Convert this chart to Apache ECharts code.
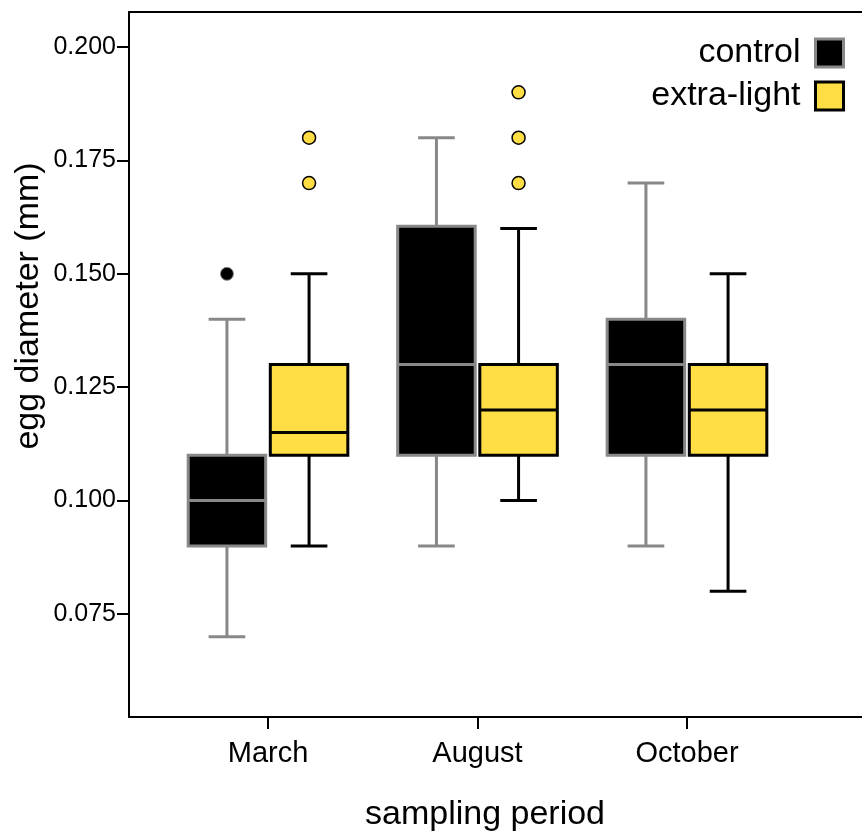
<!DOCTYPE html>
<html>
<head>
<meta charset="utf-8">
<script src="https://cdn.jsdelivr.net/npm/echarts@6/dist/echarts.min.js"></script>
<style>
  html, body { margin: 0; padding: 0; background: #fff; }
  #chart { width: 862px; height: 834px; }
</style>
</head>
<body>
<div id="chart"></div>
<script>
// sampling periods
const categories = ['March', 'August', 'October'];
// [min, q1, median, q3, max] per period
const controlStats = [
    [0.070, 0.090, 0.100, 0.110, 0.140],
    [0.090, 0.110, 0.130, 0.1605, 0.180],
    [0.090, 0.110, 0.130, 0.140, 0.170]
];
const lightStats = [
    [0.090, 0.110, 0.115, 0.130, 0.150],
    [0.100, 0.110, 0.120, 0.130, 0.160],
    [0.080, 0.110, 0.120, 0.130, 0.150]
];
// outliers: [period index, value]
const controlOutliers = [[0, 0.150]];
const lightOutliers = [[0, 0.170], [0, 0.180], [1, 0.170], [1, 0.180], [1, 0.190]];
const yTicks = [0.075, 0.100, 0.125, 0.150, 0.175, 0.200];

const FONT = '"Liberation Sans", Arial, sans-serif';
const YELLOW = '#FEDD45';
const GREY = '#888888';
const OFFSET = 0.196;   // half spacing between the two boxes of a period
const BOX_W = 0.37;
const CAP_W = 0.175;
const X_MIN = -0.6635;
const X_MAX = 2.8353;

function boxRenderer(offset, stroke, fill) {
    return function (params, api) {
        const x = api.value(0) + offset;
        const lo = api.coord([x, api.value(1)]);
        const q1 = api.coord([x, api.value(2)]);
        const med = api.coord([x, api.value(3)]);
        const q3 = api.coord([x, api.value(4)]);
        const hi = api.coord([x, api.value(5)]);
        const bw = api.size([BOX_W, 0])[0];
        const cw = api.size([CAP_W, 0])[0];
        const line = {stroke: stroke, lineWidth: 3};
        return {
            type: 'group',
            children: [
                {type: 'line', shape: {x1: lo[0], y1: lo[1], x2: hi[0], y2: hi[1]}, style: line},
                {type: 'line', shape: {x1: lo[0] - cw / 2, y1: lo[1], x2: lo[0] + cw / 2, y2: lo[1]}, style: line},
                {type: 'line', shape: {x1: hi[0] - cw / 2, y1: hi[1], x2: hi[0] + cw / 2, y2: hi[1]}, style: line},
                {
                    type: 'rect',
                    shape: {x: q3[0] - bw / 2, y: q3[1], width: bw, height: q1[1] - q3[1]},
                    style: {fill: fill, stroke: stroke, lineWidth: 3}
                },
                {type: 'line', shape: {x1: med[0] - bw / 2, y1: med[1], x2: med[0] + bw / 2, y2: med[1]}, style: line}
            ]
        };
    };
}

const chart = echarts.init(document.getElementById('chart'), null, {renderer: 'canvas'});

chart.setOption({
    animation: false,
    backgroundColor: '#fff',
    textStyle: {fontFamily: FONT, color: '#000'},
    grid: {left: 129, top: 12, bottom: 117, right: 0},
    legend: {
        orient: 'vertical',
        right: 12,
        top: 31,
        align: 'right',
        icon: 'rect',
        itemWidth: 28,
        itemHeight: 28,
        itemGap: 9,
        textStyle: {fontSize: 34, lineHeight: 34, color: '#000', fontFamily: FONT, padding: [0, 10, 0, 0]},
        data: [
            {name: 'control', itemStyle: {color: '#000', borderColor: GREY, borderWidth: 3}},
            {name: 'extra-light', itemStyle: {color: YELLOW, borderColor: '#000', borderWidth: 3}}
        ]
    },
    xAxis: [
        {
            type: 'value',
            min: X_MIN,
            max: X_MAX,
            splitLine: {show: false},
            axisLine: {onZero: false, lineStyle: {color: '#000', width: 2}},
            axisTick: {customValues: [0, 1, 2], length: 12, lineStyle: {color: '#000', width: 2}},
            axisLabel: {
                customValues: [0, 1, 2],
                margin: 22,
                fontSize: 29,
                color: '#000',
                fontFamily: FONT,
                formatter: function (v) { return categories[Math.round(v)]; }
            }
        },
        {
            // top frame line
            type: 'value',
            position: 'top',
            min: X_MIN,
            max: X_MAX,
            splitLine: {show: false},
            axisLine: {onZero: false, lineStyle: {color: '#000', width: 2}},
            axisTick: {show: false},
            axisLabel: {show: false}
        }
    ],
    yAxis: {
        type: 'value',
        min: 0.05229,
        max: 0.20772,
        splitLine: {show: false},
        axisLine: {show: true, onZero: false, lineStyle: {color: '#000', width: 2}},
        axisTick: {show: true, customValues: yTicks, length: 12, lineStyle: {color: '#000', width: 2}},
        axisLabel: {
            customValues: yTicks,
            margin: 13,
            fontSize: 25,
            color: '#000',
            fontFamily: FONT,
            formatter: function (v) { return v.toFixed(3); }
        }
    },
    graphic: [
        {
            type: 'text', x: 29, y: 306, rotation: Math.PI / 2,
            style: {text: 'egg diameter (mm)', font: '34px ' + FONT, fill: '#000', align: 'center', verticalAlign: 'middle'}
        },
        {
            type: 'text', x: 485, y: 815,
            style: {text: 'sampling period', font: '34px ' + FONT, fill: '#000', align: 'center', verticalAlign: 'middle'}
        }
    ],
    series: [
        {
            name: 'control',
            type: 'custom',
            itemStyle: {color: '#000', borderColor: GREY},
            renderItem: boxRenderer(-OFFSET, GREY, '#000'),
            data: controlStats.map((s, i) => [i].concat(s))
        },
        {
            name: 'extra-light',
            type: 'custom',
            itemStyle: {color: YELLOW, borderColor: '#000'},
            renderItem: boxRenderer(OFFSET, '#000', YELLOW),
            data: lightStats.map((s, i) => [i].concat(s))
        },
        {
            name: 'control',
            type: 'scatter',
            symbolSize: 13,
            itemStyle: {color: '#000', borderColor: GREY, borderWidth: 1, opacity: 1},
            data: controlOutliers.map(p => [p[0] - OFFSET, p[1]])
        },
        {
            name: 'extra-light',
            type: 'scatter',
            symbolSize: 13,
            itemStyle: {color: YELLOW, borderColor: '#000', borderWidth: 1.5, opacity: 1},
            data: lightOutliers.map(p => [p[0] + OFFSET, p[1]])
        }
    ]
});
</script>
</body>
</html>
